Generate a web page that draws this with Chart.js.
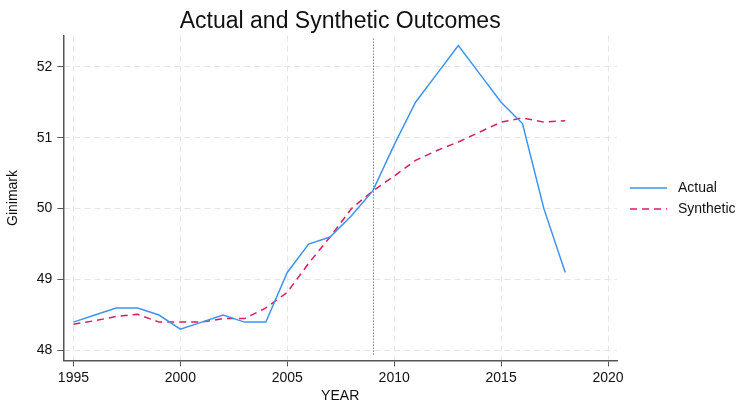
<!DOCTYPE html>
<html>
<head>
<meta charset="utf-8">
<script src="https://cdn.jsdelivr.net/npm/chart.js@4"></script>
<style>
  html, body { margin: 0; padding: 0; background: #fff; }
  #wrap { width: 744px; height: 403px; }
</style>
</head>
<body>
<div id="wrap"><canvas id="c" width="744" height="403"></canvas></div>
<script>
// Gini index, observed vs. synthetic control
const years = [1995, 1996, 1997, 1998, 1999, 2000, 2001, 2002, 2003, 2004, 2005, 2006,
               2007, 2008, 2009, 2010, 2011, 2012, 2013, 2014, 2015, 2016, 2017, 2018];
const actual = [48.4, 48.5, 48.6, 48.6, 48.5, 48.3, 48.4, 48.5, 48.4, 48.4, 49.1, 49.5,
                49.6, 49.9, 50.25, 50.9, 51.5, 51.9, 52.3, 51.9, 51.5, 51.2, 50.0, 49.1];
const synthetic = [48.37, 48.42, 48.48, 48.51, 48.4, 48.4, 48.4, 48.45, 48.45, 48.6, 48.82, 49.23,
                   49.6, 50.0, 50.25, 50.46, 50.68, 50.82, 50.94, 51.08, 51.22, 51.28, 51.22, 51.24];
const xTicks = [1995, 2000, 2005, 2010, 2015, 2020];
const yTicks = [48, 49, 50, 51, 52];
const treatmentYear = 2009;

const FONT = 'Liberation Sans, Arial, Helvetica, sans-serif';

// Vertical dotted marker at the treatment year
const treatLine = {
  id: 'treatLine',
  afterDatasetsDraw(chart) {
    const { ctx, chartArea, scales } = chart;
    const x = Math.round(scales.x.getPixelForValue(treatmentYear)) + 0.5;
    ctx.save();
    ctx.strokeStyle = '#444';
    ctx.lineWidth = 1;
    ctx.setLineDash([1, 2]);
    ctx.beginPath();
    ctx.moveTo(x, chartArea.top + 3);
    ctx.lineTo(x, chartArea.bottom - 5);
    ctx.stroke();
    ctx.restore();
  }
};

// Legend to the right of the plot
const sideLegend = {
  id: 'sideLegend',
  afterDraw(chart) {
    const { ctx, chartArea } = chart;
    const x0 = chartArea.right + 13;
    const yMid = (chartArea.top + chartArea.bottom) / 2;
    const rows = chart.data.datasets.map((ds, i) => ({ ds, y: yMid - 10 + i * 21 }));
    ctx.save();
    ctx.font = '14px ' + FONT;
    ctx.textBaseline = 'middle';
    rows.forEach(({ ds, y }) => {
      ctx.strokeStyle = ds.borderColor;
      ctx.lineWidth = ds.borderWidth;
      ctx.setLineDash(ds.borderDash || []);
      ctx.beginPath();
      ctx.moveTo(x0, y);
      ctx.lineTo(x0 + 37, y);
      ctx.stroke();
      ctx.fillStyle = '#111';
      ctx.fillText(ds.label, x0 + 48, y);
    });
    ctx.restore();
  }
};

new Chart(document.getElementById('c'), {
  type: 'line',
  data: {
    labels: years,
    datasets: [
      {
        label: 'Actual',
        data: years.map((y, i) => ({ x: y, y: actual[i] })),
        borderColor: '#3d94f0',
        borderWidth: 1.5,
        pointRadius: 0,
        tension: 0,
        fill: false
      },
      {
        label: 'Synthetic',
        data: years.map((y, i) => ({ x: y, y: synthetic[i] })),
        borderColor: '#d81e5b',
        borderWidth: 1.5,
        borderDash: [7, 5],
        pointRadius: 0,
        tension: 0,
        fill: false
      }
    ]
  },
  options: {
    responsive: false,
    animation: false,
    layout: { padding: { left: 0, right: 127, top: 0, bottom: 0 } },
    plugins: {
      legend: { display: false },
      tooltip: { enabled: false },
      title: {
        display: true,
        fullSize: false,
        text: 'Actual and Synthetic Outcomes',
        color: '#111',
        font: { family: FONT, size: 23, weight: 'normal' },
        padding: { top: 8, bottom: 0 }
      }
    },
    scales: {
      x: {
        type: 'linear',
        min: 1994.53,
        max: 2020.42,
        afterBuildTicks(scale) { scale.ticks = xTicks.map(v => ({ value: v })); },
        ticks: {
          color: '#111',
          font: { family: FONT, size: 14 },
          padding: 3,
          maxRotation: 0,
          callback: v => String(v)
        },
        grid: {
          color: '#e6e6e6',
          lineWidth: 1,
          drawTicks: true,
          tickLength: 6,
          tickColor: '#555',
          tickBorderDash: [],
          tickWidth: 1
        },
        border: { display: true, color: '#555', width: 1.5, dash: [6, 4] },
        title: {
          display: true,
          text: 'YEAR',
          color: '#111',
          font: { family: FONT, size: 14 },
          padding: { top: -1, bottom: -2 }
        }
      },
      y: {
        type: 'linear',
        min: 47.86,
        max: 52.44,
        afterBuildTicks(scale) { scale.ticks = yTicks.map(v => ({ value: v })); },
        ticks: {
          color: '#111',
          font: { family: FONT, size: 14 },
          padding: 5
        },
        grid: {
          color: '#e6e6e6',
          lineWidth: 1,
          drawTicks: true,
          tickLength: 6,
          tickColor: '#555',
          tickBorderDash: [],
          tickWidth: 1
        },
        border: { display: true, color: '#555', width: 1.5, dash: [6, 4] },
        title: {
          display: true,
          text: 'Ginimark',
          color: '#111',
          font: { family: FONT, size: 14 },
          padding: { top: 5, bottom: 10 }
        }
      }
    }
  },
  plugins: [treatLine, sideLegend]
});
</script>
</body>
</html>
